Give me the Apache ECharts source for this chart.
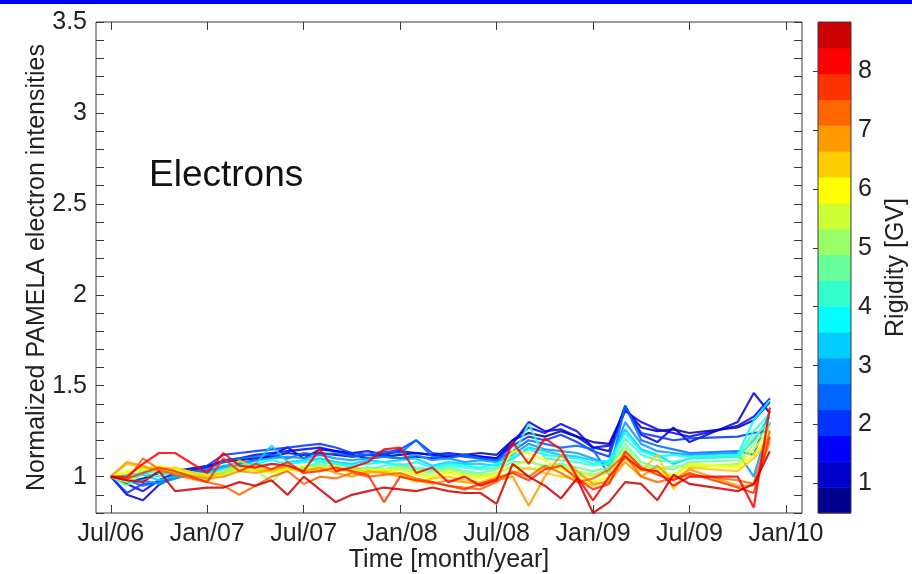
<!DOCTYPE html>
<html>
<head>
<meta charset="utf-8">
<script src="https://cdn.jsdelivr.net/npm/echarts@6/dist/echarts.min.js"></script>
<style>
  html, body { margin: 0; padding: 0; background: #ffffff; }
  #chart { width: 912px; height: 574px; }
</style>
</head>
<body>
<div id="chart"></div>
<script>
// Time points: month index counted from Jan 2006 (6 = Jul/06, 48 = Jan/10)
const months = [6, 7, 8, 9, 10, 12, 13, 14, 15, 16, 17, 18, 19, 20, 21, 22, 23, 24, 25, 26,
                27, 28, 29, 30, 31, 32, 33, 34, 35, 36, 37, 38, 39, 40, 41, 42, 45, 46, 47];

const tickMonths = [6, 12, 18, 24, 30, 36, 42, 48];
const tickLabels = ['Jul/06', 'Jan/07', 'Jul/07', 'Jan/08', 'Jul/08', 'Jan/09', 'Jul/09', 'Jan/10'];
const yLabelValues = [1, 1.5, 2, 2.5, 3, 3.5];
const colorbarTicks = [1, 2, 3, 4, 5, 6, 7, 8];

// Rigidity (GV) of each electron bin, low to high
const rigidity = [0.72, 1.16, 1.60, 2.03, 2.47, 2.91, 3.35, 3.79, 4.22, 4.66,
                  5.10, 5.54, 5.98, 6.41, 6.85, 7.29, 7.73, 8.17, 8.61];

// Normalized electron intensities per rigidity bin
const r00 = [1.00, 0.97, 0.99, 1.02, 1.03, 1.06, 1.08, 1.09, 1.10, 1.11, 1.13, 1.12, 1.13, 1.12, 1.11, 1.12, 1.11, 1.12, 1.13, 1.12,
             1.11, 1.12, 1.13, 1.12, 1.20, 1.24, 1.22, 1.25, 1.22, 1.19, 1.18, 1.37, 1.27, 1.25, 1.26, 1.24, 1.27, 1.31, 1.41];
const r01 = [1.00, 0.90, 0.87, 0.955, 1.00, 1.03, 1.05, 1.07, 1.09, 1.12, 1.16, 1.10, 1.15, 1.14, 1.12, 1.10, 1.11, 1.10, 1.11, 1.10,
             1.11, 1.12, 1.11, 1.10, 1.18, 1.30, 1.25, 1.26, 1.22, 1.16, 1.14, 1.39, 1.23, 1.19, 1.27, 1.19, 1.30, 1.46, 1.35];
const r02 = [1.00, 0.96, 0.92, 0.98, 1.02, 1.05, 1.09, 1.10, 1.12, 1.13, 1.14, 1.15, 1.16, 1.14, 1.13, 1.14, 1.12, 1.14, 1.13, 1.12,
             1.13, 1.12, 1.11, 1.10, 1.20, 1.27, 1.24, 1.29, 1.25, 1.16, 1.17, 1.36, 1.30, 1.26, 1.24, 1.22, 1.28, 1.33, 1.43];
const r03 = [1.00, 0.91, 0.96, 0.97, 0.99, 1.06, 1.12, 1.13, 1.14, 1.15, 1.16, 1.17, 1.18, 1.16, 1.13, 1.12, 1.13, 1.15, 1.20, 1.13,
             1.12, 1.11, 1.10, 1.09, 1.17, 1.22, 1.20, 1.23, 1.19, 1.14, 1.11, 1.38, 1.24, 1.22, 1.20, 1.21, 1.22, 1.24, 1.25];
const r04 = [1.00, 0.98, 0.95, 0.97, 1.01, 1.04, 1.08, 1.10, 1.11, 1.12, 1.10, 1.13, 1.12, 1.13, 1.11, 1.12, 1.14, 1.13, 1.20, 1.11,
             1.10, 1.12, 1.10, 1.09, 1.14, 1.20, 1.18, 1.16, 1.17, 1.15, 1.01, 1.39, 1.20, 1.17, 1.15, 1.13, 1.14, 1.12, 1.36];
const r05 = [1.00, 0.97, 0.98, 0.96, 0.99, 1.03, 1.06, 1.07, 1.09, 1.10, 1.11, 1.10, 1.12, 1.10, 1.09, 1.10, 1.11, 1.10, 1.12, 1.09,
             1.10, 1.08, 1.09, 1.08, 1.12, 1.18, 1.15, 1.14, 1.13, 1.10, 1.06, 1.30, 1.18, 1.14, 1.13, 1.12, 1.13, 1.00, 1.30];
const r06 = [1.00, 0.99, 1.01, 0.98, 1.00, 1.02, 1.05, 1.08, 1.07, 1.17, 1.08, 1.09, 1.10, 1.08, 1.07, 1.09, 1.08, 1.09, 1.10, 1.06,
             1.08, 1.07, 1.07, 1.06, 1.10, 1.16, 1.14, 1.12, 1.11, 1.09, 1.08, 1.26, 1.15, 1.12, 1.07, 1.10, 1.11, 1.20, 1.33];
const r07 = [1.00, 1.01, 1.02, 1.00, 1.03, 1.01, 1.04, 1.06, 1.07, 1.09, 1.07, 1.08, 1.09, 1.07, 1.06, 1.07, 1.08, 1.06, 1.08, 1.05,
             1.07, 1.06, 1.05, 1.07, 1.10, 1.15, 1.12, 1.11, 1.10, 1.07, 1.09, 1.24, 1.14, 1.11, 1.12, 1.11, 1.12, 1.31, 1.42];
const r08 = [1.00, 0.98, 1.03, 1.02, 1.04, 1.00, 1.03, 1.05, 1.06, 1.07, 1.06, 1.05, 1.08, 1.07, 1.05, 1.04, 1.06, 1.07, 1.05, 1.04,
             1.06, 1.05, 1.04, 1.05, 1.11, 1.29, 1.10, 1.09, 1.08, 1.06, 1.07, 1.21, 1.12, 1.09, 1.08, 1.10, 1.11, 1.25, 1.35];
const r09 = [1.00, 0.95, 1.02, 1.04, 1.03, 0.99, 1.02, 1.04, 1.05, 1.03, 1.06, 1.05, 1.07, 1.05, 1.04, 1.05, 1.04, 1.06, 1.04, 1.03,
             1.05, 1.03, 1.02, 1.04, 1.08, 1.08, 1.06, 1.07, 1.05, 1.03, 1.05, 1.18, 1.08, 1.05, 1.04, 1.08, 1.09, 1.22, 1.30];
const r10 = [1.00, 0.97, 1.04, 1.05, 1.02, 0.98, 1.01, 1.03, 1.04, 0.97, 1.05, 1.04, 1.06, 1.04, 1.03, 1.05, 1.02, 1.05, 1.03, 1.02,
             1.04, 1.02, 1.01, 1.02, 1.06, 1.04, 1.05, 1.06, 1.03, 1.01, 1.04, 1.16, 1.06, 1.04, 1.06, 1.05, 1.07, 1.18, 1.28];
const r11 = [1.00, 1.02, 1.05, 1.04, 1.03, 1.00, 1.03, 1.05, 1.03, 1.02, 1.04, 1.03, 1.05, 1.06, 1.03, 1.04, 1.03, 1.04, 1.02, 1.00,
             1.03, 1.01, 1.00, 1.02, 1.05, 1.10, 1.04, 1.05, 1.02, 1.00, 1.02, 1.14, 1.05, 1.03, 1.01, 1.06, 1.06, 1.15, 1.26];
const r12 = [1.00, 1.03, 1.04, 1.06, 1.04, 1.01, 1.00, 1.04, 1.05, 1.03, 1.04, 1.06, 1.03, 1.05, 1.02, 1.03, 1.04, 1.02, 1.01, 0.99,
             1.02, 1.00, 0.99, 1.01, 1.14, 1.13, 1.09, 1.04, 1.01, 0.97, 1.00, 1.12, 1.04, 1.02, 1.00, 1.07, 1.05, 1.12, 1.24];
const r13 = [1.00, 1.07, 1.05, 1.04, 1.05, 1.00, 1.02, 1.09, 1.04, 1.03, 1.05, 1.02, 1.04, 1.03, 1.05, 1.02, 1.03, 1.01, 0.97, 0.99,
             1.00, 0.98, 0.97, 1.00, 1.02, 1.05, 1.02, 1.00, 0.99, 0.95, 0.98, 1.10, 1.03, 1.12, 0.93, 1.05, 1.03, 1.10, 1.21];
const r14 = [1.00, 1.08, 1.06, 1.03, 1.02, 0.99, 1.00, 1.03, 1.02, 1.04, 1.06, 1.03, 1.05, 1.02, 1.00, 1.03, 1.02, 1.00, 0.98, 0.96,
             0.98, 0.97, 0.96, 0.98, 1.00, 0.84, 1.00, 1.12, 1.03, 0.96, 0.97, 1.08, 1.00, 1.06, 0.98, 1.04, 0.95, 0.95, 1.19];
const r15 = [1.00, 0.98, 1.10, 1.04, 1.01, 0.97, 0.95, 0.90, 0.95, 1.00, 1.03, 0.96, 1.00, 0.99, 1.02, 1.00, 1.01, 1.02, 0.99, 0.97,
             0.95, 0.94, 0.93, 0.97, 1.03, 1.00, 1.06, 1.02, 0.97, 0.99, 1.04, 1.12, 1.00, 0.97, 0.99, 1.01, 0.98, 0.96, 1.25];
const r16 = [1.00, 0.99, 1.02, 1.05, 1.03, 0.97, 1.10, 1.03, 1.07, 1.04, 1.08, 1.02, 1.03, 1.05, 1.03, 1.01, 0.86, 1.00, 0.98, 0.97,
             0.95, 0.93, 0.96, 0.99, 1.02, 0.98, 1.04, 1.06, 0.99, 0.93, 0.96, 1.14, 1.05, 1.01, 0.98, 1.02, 0.94, 0.91, 1.22];
const r17 = [1.00, 1.00, 1.07, 1.13, 1.13, 1.02, 1.13, 1.06, 1.05, 1.07, 1.06, 1.03, 1.15, 1.03, 1.05, 1.08, 1.15, 1.16, 1.02, 1.05,
             0.97, 1.00, 0.95, 0.98, 1.19, 1.07, 1.21, 1.15, 1.00, 0.87, 1.00, 1.11, 1.04, 1.03, 0.95, 1.00, 1.00, 0.83, 1.38];
const r18 = [1.00, 0.98, 0.97, 1.03, 0.92, 0.94, 0.94, 0.97, 0.95, 0.98, 0.90, 1.00, 0.93, 0.86, 0.90, 0.92, 0.94, 0.93, 0.92, 0.94,
             0.92, 0.91, 0.91, 0.85, 1.07, 1.00, 0.95, 0.88, 0.99, 0.80, 0.86, 0.97, 0.96, 0.87, 1.01, 0.96, 0.92, 0.96, 1.14];

const intensities = [r00, r01, r02, r03, r04, r05, r06, r07, r08, r09,
                     r10, r11, r12, r13, r14, r15, r16, r17, r18];

// Discrete jet palette of the rigidity colour bar (low to high)
const jetColors = ['#000090', '#0000cc', '#0000ff', '#0033ff', '#0066ff', '#0099ff', '#00ccff',
                   '#00ffff', '#33ffcc', '#66ff99', '#99ff66', '#ccff33', '#ffff00', '#ffcc00',
                   '#ff9900', '#ff6600', '#ff3300', '#ff0000', '#cc0000'];
const cbMin = 0.5, cbMax = 8.83;
const cbStep = (cbMax - cbMin) / jetColors.length;

function rigidityColor(r) {
  const k = Math.min(jetColors.length - 1, Math.max(0, Math.floor((r - cbMin) / cbStep)));
  return jetColors[k];
}

const FONT = 'Liberation Sans, Arial, Helvetica, sans-serif';
const INK = '#222222';
const FRAME = '#3a3a3a';

const lineSeries = intensities.map((vals, i) => ({
  type: 'line',
  name: rigidity[i] + ' GV',
  xAxisIndex: 0,
  yAxisIndex: 0,
  data: months.map((m, j) => [m, vals[j]]),
  showSymbol: false,
  symbol: 'none',
  silent: true,
  lineStyle: { width: 2.2, color: rigidityColor(rigidity[i]), opacity: 0.85 },
  z: 3
}));

const colorbarSeries = {
  type: 'custom',
  xAxisIndex: 2,
  yAxisIndex: 2,
  silent: true,
  data: jetColors.map((c, i) => [i]),
  renderItem: function (params, api) {
    const i = api.value(0);
    const lo = cbMin + i * cbStep;
    const hi = lo + cbStep;
    const p0 = api.coord([0, hi]);
    const p1 = api.coord([1, lo]);
    return {
      type: 'rect',
      shape: { x: p0[0], y: p0[1], width: p1[0] - p0[0], height: p1[1] - p0[1] + 0.5 },
      style: { fill: jetColors[i] }
    };
  },
  z: 2
};

const xMin = 5.08, xMax = 49.0;
const yMin = 0.8, yMax = 3.5;

const tickStyle = { inside: true, length: 8, lineStyle: { color: FRAME, width: 1 } };

const option = {
  backgroundColor: '#ffffff',
  animation: false,
  grid: [
    { left: 96, right: 110, top: 22, bottom: 61, outerBoundsMode: 'none', containLabel: false,
      show: true, borderColor: FRAME, borderWidth: 1, backgroundColor: '#ffffff' },
    { left: 818, right: 61, top: 22, bottom: 61, outerBoundsMode: 'none', containLabel: false,
      show: true, borderColor: FRAME, borderWidth: 1, backgroundColor: 'transparent', z: 4 }
  ],
  xAxis: [
    {
      gridIndex: 0, type: 'value', min: xMin, max: xMax, position: 'bottom',
      axisLine: { show: false },
      axisTick: Object.assign({ customValues: tickMonths }, tickStyle),
      axisLabel: {
        customValues: tickMonths,
        formatter: v => tickLabels[tickMonths.indexOf(v)],
        fontSize: 25, color: INK, fontFamily: FONT, margin: 9
      },
      splitLine: { show: false },
      name: 'Time [month/year]', nameLocation: 'middle', nameGap: 35, nameMoveOverlap: false,
      nameTextStyle: { fontSize: 25, color: INK, fontFamily: FONT }
    },
    {
      gridIndex: 0, type: 'value', min: xMin, max: xMax, position: 'top',
      axisLine: { show: false },
      axisTick: Object.assign({ customValues: tickMonths }, tickStyle),
      axisLabel: { show: false },
      splitLine: { show: false }
    },
    { gridIndex: 1, type: 'value', min: 0, max: 1, show: false }
  ],
  yAxis: [
    {
      gridIndex: 0, type: 'value', min: yMin, max: yMax, interval: 0.1, position: 'left',
      axisLine: { show: false },
      axisTick: tickStyle,
      axisLabel: {
        customValues: yLabelValues,
        formatter: v => String(v),
        fontSize: 25, color: INK, fontFamily: FONT, margin: 9
      },
      splitLine: { show: false },
      name: 'Normalized PAMELA electron intensities', nameLocation: 'middle', nameGap: 46, nameMoveOverlap: false,
      nameTextStyle: { fontSize: 25, color: INK, fontFamily: FONT }
    },
    {
      gridIndex: 0, type: 'value', min: yMin, max: yMax, interval: 0.1, position: 'right',
      axisLine: { show: false },
      axisTick: tickStyle,
      axisLabel: { show: false },
      splitLine: { show: false }
    },
    {
      gridIndex: 1, type: 'value', min: cbMin, max: cbMax, position: 'right',
      axisLine: { show: false },
      axisTick: { customValues: colorbarTicks, inside: true, length: 5, lineStyle: { color: FRAME } },
      axisLabel: { customValues: colorbarTicks, fontSize: 25, color: INK, fontFamily: FONT, margin: 7 },
      splitLine: { show: false },
      name: 'Rigidity [GV]', nameLocation: 'middle', nameRotate: 90, nameGap: 33,
      nameTextStyle: { fontSize: 25, color: INK, fontFamily: FONT }
    },
    {
      gridIndex: 1, type: 'value', min: cbMin, max: cbMax, position: 'left',
      axisLine: { show: false },
      axisTick: { customValues: colorbarTicks, inside: true, length: 5, lineStyle: { color: FRAME } },
      axisLabel: { show: false },
      splitLine: { show: false }
    }
  ],
  graphic: [
    { type: 'rect', left: 0, top: 0, shape: { width: 912, height: 4 }, style: { fill: '#0000f0' }, z: 10 },
    {
      type: 'text', left: 149, top: 157,
      style: { text: 'Electrons', fontSize: 37, fill: '#111111', fontFamily: FONT }, z: 10
    }
  ],
  series: lineSeries.concat([colorbarSeries])
};

const chart = echarts.init(document.getElementById('chart'), null, { renderer: 'canvas' });
chart.setOption(option);
</script>
</body>
</html>
